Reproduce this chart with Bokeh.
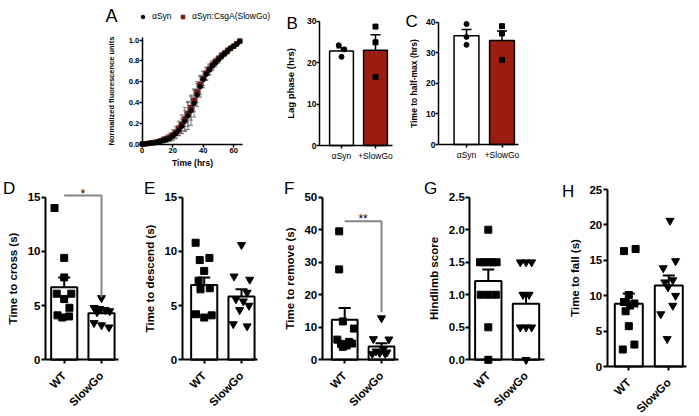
import math
from bokeh.plotting import figure
from bokeh.layouts import row, column
from bokeh.models import (ColumnDataSource, Whisker, TeeHead, Label, FixedTicker,
                          Legend, LegendItem, NumeralTickFormatter)
from bokeh.core.properties import value
from bokeh.embed import file_html
from bokeh.resources import INLINE

FONT = "Liberation Sans"
BAR_RED = "#9b1c10"
A_RED = "#6e1a12"
SIG_GRAY = "#858585"

# ---------------- Panel A: aggregation kinetics ----------------
time_hrs = [0, 2, 4, 6, 8, 10, 12, 14, 16, 18, 20, 22, 24, 26, 28, 30, 32,
            34, 36, 38, 40, 42, 44, 46, 48, 50, 52, 54, 56, 58, 60, 62, 64]
asyn_fluor = [0.00, 0.00, 0.005, 0.01, 0.012, 0.018, 0.025, 0.035, 0.045, 0.055,
              0.075, 0.10, 0.13, 0.17, 0.22, 0.27, 0.32, 0.39, 0.47, 0.55, 0.62,
              0.67, 0.71, 0.75, 0.78, 0.81, 0.84, 0.87, 0.89, 0.92, 0.94, 0.96, 0.985]
asyn_err = [0.003, 0.003, 0.004, 0.005, 0.006, 0.01, 0.015, 0.02, 0.025, 0.03,
            0.035, 0.04, 0.05, 0.07, 0.10, 0.13, 0.14, 0.13, 0.11, 0.10, 0.08,
            0.06, 0.05, 0.045, 0.04, 0.035, 0.03, 0.03, 0.025, 0.02, 0.02, 0.015, 0.01]
slowgo_fluor = [0.00, 0.002, 0.006, 0.01, 0.015, 0.02, 0.03, 0.04, 0.05, 0.065,
                0.085, 0.11, 0.15, 0.19, 0.24, 0.29, 0.35, 0.42, 0.50, 0.57, 0.63,
                0.68, 0.72, 0.76, 0.79, 0.82, 0.85, 0.87, 0.90, 0.92, 0.94, 0.965, 0.99]
slowgo_err = [0.003, 0.003, 0.004, 0.005, 0.008, 0.012, 0.02, 0.03, 0.035, 0.04,
              0.05, 0.06, 0.07, 0.09, 0.11, 0.12, 0.12, 0.11, 0.10, 0.09, 0.07,
              0.06, 0.05, 0.04, 0.035, 0.03, 0.03, 0.025, 0.025, 0.02, 0.02, 0.015, 0.01]
legend_labels = ["αSyn", "αSyn:CsgA(SlowGo)"]

# ---------------- Panels B, C ----------------
invitro_groups = ["αSyn", "+SlowGo"]
lag_mean = [22.8, 23.0]
lag_sem = [0.8, 3.7]
lag_asyn_pts = [24.2, 23.2, 21.4]
lag_slowgo_pts = [28.7, 24.9, 16.5]
half_mean = [35.6, 34.0]
half_sem = [2.0, 3.1]
half_asyn_pts = [39.4, 35.2, 32.6]
half_slowgo_pts = [38.7, 36.3, 27.7]

# ---------------- Panels D-H ----------------
genotypes = ["WT", "SlowGo"]

cross_mean = [6.7, 4.3]
cross_sem = [0.9, 0.3]
cross_wt = [14.0, 9.4, 7.6, 6.1, 6.1, 5.6, 4.8, 4.1, 3.9, 4.0]
cross_slowgo = [5.7, 4.8, 4.7, 4.6, 4.5, 4.4, 3.4, 3.2, 3.0]
cross_sig = [15.15, 15.15, 5.8]

descend_mean = [6.9, 5.85]
descend_sem = [0.7, 0.65]
descend_wt = [10.8, 9.2, 9.4, 8.2, 7.3, 6.5, 6.6, 4.2, 3.9, 4.1]
descend_slowgo = [10.6, 7.7, 7.4, 6.2, 5.6, 5.4, 5.0, 4.6, 3.3, 3.1]

remove_mean = [12.3, 4.1]
remove_sem = [3.6, 1.0]
remove_wt = [39.5, 27.8, 11.8, 9.6, 6.2, 5.5, 4.9, 4.4, 4.0, 5.0]
remove_slowgo = [12.8, 6.4, 6.3, 3.2, 2.6, 2.3, 2.1, 1.9, 1.8]
remove_sig = [42.6, 42.6, 14.6]

hindlimb_mean = [1.21, 0.86]
hindlimb_sem = [0.18, 0.17]
hindlimb_wt = [2.0, 1.5, 1.5, 1.5, 1.5, 1.5, 1.0, 1.0, 1.0, 0.5, 0.0]
hindlimb_slowgo = [1.5, 1.5, 1.5, 1.0, 1.0, 0.5, 0.5, 0.5, 0.0]

fall_mean = [8.85, 11.45]
fall_sem = [1.45, 1.4]
fall_wt = [16.3, 16.6, 10.1, 9.1, 8.9, 8.6, 7.8, 5.7, 3.1, 2.4]
fall_slowgo = [20.6, 14.9, 13.9, 12.2, 11.9, 11.2, 10.0, 8.6, 7.4, 3.9]

# horizontal scatter of the dots inside each bar (as seen in the picture)
cross_wt_jit = [-0.26, 0.0, 0.0, -0.2, 0.19, 0.0, 0.14, -0.18, -0.05, 0.13]
cross_sg_jit = [0.0, -0.2, -0.05, 0.1, 0.22, -0.12, -0.2, 0.0, 0.2]
descend_wt_jit = [-0.23, -0.12, 0.14, 0.0, -0.15, -0.1, 0.15, -0.22, 0.0, 0.2]
descend_sg_jit = [0.0, -0.2, 0.22, 0.15, -0.15, 0.05, 0.2, -0.05, -0.22, 0.15]
remove_wt_jit = [-0.15, -0.15, -0.05, 0.25, -0.2, 0.12, -0.1, 0.05, -0.05, 0.2]
remove_sg_jit = [0.0, -0.22, 0.2, 0.05, -0.15, 0.15, -0.05, 0.1, -0.25]
hind_wt_jit = [0.0, -0.22, -0.11, 0.0, 0.11, 0.22, -0.2, 0.0, 0.2, 0.0, 0.0]
hind_sg_jit = [-0.15, 0.0, 0.15, -0.08, 0.08, -0.15, 0.0, 0.15, 0.0]
fall_wt_jit = [-0.12, 0.17, 0.0, -0.12, 0.14, 0.03, -0.08, 0.0, 0.14, -0.15]
fall_sg_jit = [0.03, 0.17, -0.14, 0.1, -0.1, -0.02, 0.17, 0.1, -0.2, -0.04]
lag_asyn_jit = [-0.08, 0.08, 0.0]
lag_sg_jit = [0.0, 0.0, 0.0]
half_asyn_jit = [0.0, 0.0, 0.0]
half_sg_jit = [0.0, 0.0, 0.0]


class Canvas:
    """A figure whose frame fills the whole canvas; data placed via a linear pixel map."""

    def __init__(self, width, height, x_ref, x_ref_px, x_ppu, y_zero_px, y_ppu):
        self.x0 = x_ref - x_ref_px / x_ppu
        self.xp = x_ppu
        self.y0 = -(height - y_zero_px) / y_ppu
        self.yp = y_ppu
        self.h = height
        self.p = figure(width=width, height=height,
                        x_range=(self.x0, self.x0 + width / x_ppu),
                        y_range=(self.y0, self.y0 + height / y_ppu),
                        output_backend="svg", toolbar_location=None,
                        min_border_left=0, min_border_right=0,
                        min_border_top=0, min_border_bottom=0)
        self.p.grid.visible = False
        self.p.outline_line_color = None

    def dx(self, px):
        return self.x0 + px / self.xp

    def dy(self, py):
        return self.y0 + (self.h - py) / self.yp


def style_axes(p, tick_px, label_px, lw, tick_out, label_standoff, x_tick_bold=True):
    for ax in p.axis:
        ax.axis_line_width = lw
        ax.axis_line_color = "black"
        ax.major_tick_line_width = lw
        ax.major_tick_line_color = "black"
        ax.major_tick_out = tick_out
        ax.major_tick_in = 0
        ax.minor_tick_line_color = None
        ax.major_label_text_font = FONT
        ax.major_label_text_font_size = f"{tick_px}px"
        ax.major_label_text_font_style = "bold"
        ax.major_label_text_color = "black"
        ax.major_label_standoff = 1
        ax.axis_label_text_font = FONT
        ax.axis_label_text_font_size = f"{label_px}px"
        ax.axis_label_text_font_style = "bold"
        ax.axis_label_text_color = "black"
        ax.axis_label_standoff = label_standoff
    if not x_tick_bold:
        p.xaxis.major_label_text_font_style = "normal"


def panel_letter(c, letter, left_px, base_px, size=17):
    c.p.add_layout(Label(x=c.dx(left_px), y=c.dy(base_px), text=letter, text_font=FONT,
                         text_font_size=f"{size}px", text_color="black",
                         text_align="left", text_baseline="alphabetic"))


def add_dots(p, xc, vals, jit, marker, size, color="black"):
    xs = [xc + j for j in jit]
    p.scatter(xs, vals, marker=marker, size=size, fill_color=color, line_color=color)


def add_bars(p, means, sems, fills, lw, width):
    xs = list(range(1, len(means) + 1))
    src = ColumnDataSource(dict(x=xs, top=means,
                                upper=[m + s for m, s in zip(means, sems)],
                                lower=[m - s for m, s in zip(means, sems)],
                                fill=fills))
    p.vbar(x="x", top="top", bottom=0, width=width, fill_color="fill",
           line_color="black", line_width=lw, source=src)
    return src


def add_whiskers(p, src, lw, cap):
    p.add_layout(Whisker(source=src, base="x", upper="upper", lower="lower",
                         line_color="black", line_width=lw,
                         upper_head=TeeHead(size=cap, line_color="black", line_width=lw),
                         lower_head=TeeHead(size=cap, line_color="black", line_width=lw)))


TOP_H = 170
BOT_H = 245

# ---------------- Panel A ----------------
ca = Canvas(275, TOP_H, 0, 141.7, 1.525, 143.5, 104.0)
pa = ca.p
up_a = [v + e for v, e in zip(asyn_fluor, asyn_err)]
lo_a = [v - e for v, e in zip(asyn_fluor, asyn_err)]
up_s = [v + e for v, e in zip(slowgo_fluor, slowgo_err)]
lo_s = [v - e for v, e in zip(slowgo_fluor, slowgo_err)]
for up, lo in ((up_a, lo_a), (up_s, lo_s)):
    s = ColumnDataSource(dict(t=time_hrs, up=up, lo=lo))
    pa.add_layout(Whisker(source=s, base="t", upper="up", lower="lo", level="underlay",
                          line_color="#5a5a5a", line_width=0.8,
                          upper_head=TeeHead(size=4, line_color="#5a5a5a", line_width=0.8),
                          lower_head=TeeHead(size=4, line_color="#5a5a5a", line_width=0.8)))
r2 = pa.scatter(time_hrs, slowgo_fluor, marker="square", size=4.5, color=A_RED)
r1 = pa.scatter(time_hrs, asyn_fluor, marker="circle", size=4.5, color="black")
pa.xaxis.fixed_location = 0
pa.yaxis.fixed_location = 0
pa.xaxis.bounds = (0, 65.5)
pa.yaxis.bounds = (0, 1.02)
pa.xaxis.ticker = FixedTicker(ticks=[0, 20, 40, 60])
pa.yaxis.ticker = FixedTicker(ticks=[0, 0.2, 0.4, 0.6, 0.8, 1.0])
pa.yaxis.formatter = NumeralTickFormatter(format="0.0")
pa.xaxis.axis_label = "Time (hrs)"
pa.yaxis.axis_label = "Normalized fluorescence units"
style_axes(pa, 7.5, 7.5, 1.5, 3, 10)
pa.yaxis.major_label_standoff = 0
pa.xaxis.axis_label_standoff = 1
pa.xaxis.axis_label_text_font_size = "8.5px"
leg = Legend(items=[LegendItem(label=value(legend_labels[0]), renderers=[r1]),
                    LegendItem(label=value(legend_labels[1]), renderers=[r2])],
             location=(138, TOP_H - 21), orientation="horizontal", border_line_color=None,
             background_fill_alpha=0, padding=0, margin=0, spacing=6,
             label_standoff=5, glyph_width=9, glyph_height=9, label_height=9,
             label_text_font=FONT, label_text_font_size="8.5px", label_text_color="black")
pa.add_layout(leg)
panel_letter(ca, "A", 105, 15, 18)


# ---------------- Panels B and C ----------------
def invitro_panel(width, wt_px, ppu, zero_px, ppu_y, ax_x, ax_end, ymax, yticks, ylabel,
                  means, sems, pts_a, jit_a, pts_s, jit_s, letter, lx, lb,
                  label_standoff, label_px):
    c = Canvas(width, TOP_H, 1, wt_px, ppu, zero_px, ppu_y)
    p = c.p
    src = add_bars(p, means, sems, ["white", BAR_RED], 1.5, 0.7)
    add_dots(p, 1, pts_a, jit_a, "circle", 5)
    add_dots(p, 2, pts_s, jit_s, "square", 5)
    add_whiskers(p, src, 1.5, 10)
    p.xaxis.fixed_location = 0
    p.yaxis.fixed_location = ax_x
    p.xaxis.bounds = (ax_x, ax_end)
    p.yaxis.bounds = (0, ymax)
    p.xaxis.ticker = FixedTicker(ticks=[1, 2])
    p.xaxis.major_label_overrides = {i + 1: g for i, g in enumerate(invitro_groups)}
    p.yaxis.ticker = FixedTicker(ticks=yticks)
    p.yaxis.axis_label = ylabel
    style_axes(p, 8.5, label_px, 1.5, 3, label_standoff, x_tick_bold=False)
    p.yaxis.major_label_standoff = 0
    p.xaxis.major_label_text_font_size = "8.5px"
    p.xaxis.major_label_standoff = 2
    panel_letter(c, letter, lx, lb)
    return p


pb = invitro_panel(120, 66, 34, 145, 124.3 / 30, 0.353, 2.5, 30, [0, 10, 20, 30],
                   "Lag phase (hrs)", lag_mean, lag_sem, lag_asyn_pts, lag_asyn_jit,
                   lag_slowgo_pts, lag_sg_jit, "B", 11, 22.7, 8, 9.5)
pc = invitro_panel(304, 71, 35.5, 144, 122.3 / 40, 0.211, 2.465, 40, [0, 10, 20, 30, 40],
                   "Time to half-max (hrs)", half_mean, half_sem, half_asyn_pts,
                   half_asyn_jit, half_slowgo_pts, half_sg_jit, "C", 10, 20.7, 4, 8.5)


# ---------------- Panels D-H ----------------
def mouse_panel(width, wt_px, ppu, ax_x, ax_end, zero_px, span_px, ymax, yticks, ylabel,
                means, sems, wt, wt_jit, sg, sg_jit, letter, lx, lb, fmt=None,
                sig=None, star=None, star_y=None):
    c = Canvas(width, BOT_H, 1, wt_px, ppu, zero_px, span_px / ymax)
    p = c.p
    src = add_bars(p, means, sems, ["white", "white"], 2, 0.7)
    add_dots(p, 1, wt, wt_jit, "square", 7)
    add_dots(p, 2, sg, sg_jit, "inverted_triangle", 8)
    add_whiskers(p, src, 2, 12)
    if sig is not None:
        p.line([1, 2, 2], sig, line_color=SIG_GRAY, line_width=2)
        p.add_layout(Label(x=1.5, y=star_y, text=star, text_font=FONT,
                           text_font_size="12px", text_align="center",
                           text_baseline="middle", text_color="black"))
    p.xaxis.fixed_location = 0
    p.yaxis.fixed_location = ax_x
    p.xaxis.bounds = (ax_x, ax_end)
    p.yaxis.bounds = (0, ymax)
    p.xaxis.ticker = FixedTicker(ticks=[1, 2])
    p.xaxis.major_label_overrides = {i + 1: g for i, g in enumerate(genotypes)}
    p.xaxis.major_label_orientation = math.pi / 4
    p.yaxis.ticker = FixedTicker(ticks=yticks)
    if fmt:
        p.yaxis.formatter = NumeralTickFormatter(format=fmt)
    p.yaxis.axis_label = ylabel
    style_axes(p, 11.5, 11.5, 2, 4, 6)
    p.xaxis.major_label_standoff = 10
    panel_letter(c, letter, lx, lb)
    return p


# bottom row: y=0 line at 189.3 px (H: 196) below the row top, full scale 162.6 px (H: 177)
pd_ = mouse_panel(143, 63.7, 37.3, 0.499, 2.456, 189.3, 162.6, 15, [0, 5, 10, 15],
                  "Time to cross (s)", cross_mean, cross_sem, cross_wt, cross_wt_jit,
                  cross_slowgo, cross_sg_jit, "D", 2.5, 18.3,
                  sig=cross_sig, star="*", star_y=15.25)
pe = mouse_panel(140, 60.7, 37.3, 0.41, 2.44, 189.3, 162.6, 15, [0, 5, 10, 15],
                 "Time to descend (s)", descend_mean, descend_sem, descend_wt,
                 descend_wt_jit, descend_slowgo, descend_sg_jit, "E", 0.5, 18.3)
pf = mouse_panel(138, 61.2, 36.8, 0.389, 2.46, 189.3, 162.6, 50, [0, 10, 20, 30, 40, 50],
                 "Time to remove (s)", remove_mean, remove_sem, remove_wt, remove_wt_jit,
                 remove_slowgo, remove_sg_jit, "F", 0.5, 18.3,
                 sig=remove_sig, star="**", star_y=43.4)
pg = mouse_panel(140, 66.8, 37.7, 0.509, 2.49, 189.3, 162.6, 2.5,
                 [0, 0.5, 1.0, 1.5, 2.0, 2.5], "Hindlimb score", hindlimb_mean,
                 hindlimb_sem, hindlimb_wt, hind_wt_jit, hindlimb_slowgo, hind_sg_jit,
                 "G", 2.5, 18.3, fmt="0.0")
ph = mouse_panel(138, 67.3, 40, 0.46, 2.44, 196, 177, 25, [0, 5, 10, 15, 20, 25],
                 "Time to fall (s)", fall_mean, fall_sem, fall_wt, fall_wt_jit,
                 fall_slowgo, fall_sg_jit, "H", 0.5, 20.7)

layout = column(row(pa, pb, pc, spacing=0), row(pd_, pe, pf, pg, ph, spacing=0), spacing=0)
open("out.html", "w").write(file_html(layout, INLINE))
